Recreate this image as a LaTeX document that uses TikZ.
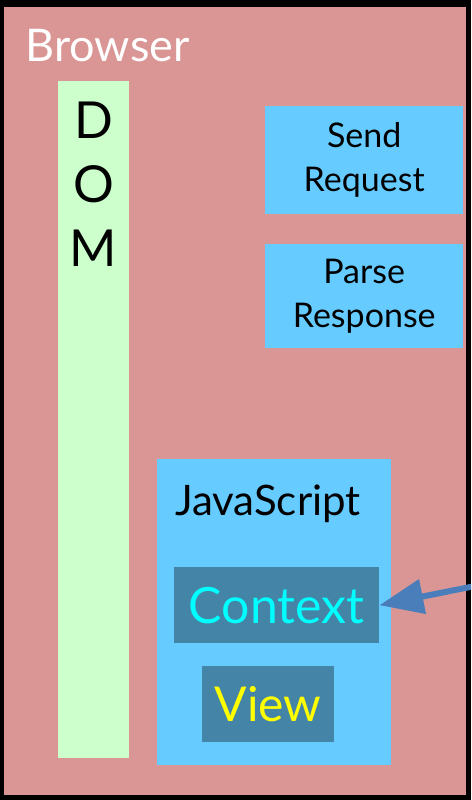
\documentclass[tikz,border=0pt]{standalone}
\usepackage{fontspec}
\setmainfont{Lato}
\usetikzlibrary{arrows.meta}

\definecolor{browserpink}{HTML}{D99694}
\definecolor{domgreen}{HTML}{CCFFCC}
\definecolor{panelblue}{HTML}{66CCFF}
\definecolor{innerteal}{HTML}{4484A6}
\definecolor{arrowblue}{HTML}{4A7EBB}
\definecolor{contextcyan}{HTML}{00FFFF}
\definecolor{viewyellow}{HTML}{FFFF00}

\begin{document}
\begin{tikzpicture}[x=1pt,y=-1pt,
  panel/.style={fill=panelblue, inner sep=0pt, anchor=north west, align=center},
  inner/.style={fill=innerteal, inner sep=0pt, anchor=north west},
  pointer/.style={-{Triangle[length=44pt,width=34pt]}, line width=6pt, arrowblue}]
% Frame
\clip (0,0) rectangle (471,800);
\fill[black] (0,0) rectangle (471,800);
\node[fill=browserpink, inner sep=0pt, anchor=north west,
      minimum width=462pt, minimum height=788pt] (browser) at (4,7) {};
\node[white, anchor=base west, font=\fontsize{45}{54}\selectfont] (browsertitle) at (22,62) {Browser};

% DOM column
\node[fill=domgreen, inner sep=0pt, anchor=north west,
      minimum width=71pt, minimum height=677pt] (dom) at (58,81) {};
\node[anchor=north, align=center, inner sep=0pt,
      font=\fontsize{51}{64}\selectfont] (domtext) at (93.5,102) {D\\O\\M};

% Request and response
\node[panel, minimum width=198pt, minimum height=108pt,
      font=\fontsize{34}{44}\selectfont] (send) at (265,106) {Send\\Request};
\node[panel, minimum width=198pt, minimum height=104pt,
      font=\fontsize{34}{44}\selectfont] (parse) at (265,244) {Parse\\Response};

% JavaScript block
\node[panel, minimum width=234pt, minimum height=306pt] (js) at (157,459) {};
\node[anchor=base west, inner sep=0pt, font=\fontsize{42}{50}\selectfont] (jstitle) at (175,515) {JavaScript};
\node[inner, minimum width=205pt, minimum height=76pt, text=contextcyan,
      font=\fontsize{50}{58}\selectfont] (context) at (174,567) {Context};
\node[inner, minimum width=132pt, minimum height=76pt, text=viewyellow,
      font=\fontsize{48}{58}\selectfont] (view) at (202,666) {View};

% Incoming pointer
\coordinate (pointertail) at (490,583);
\draw[pointer] (pointertail) -- (context.east);
\end{tikzpicture}
\end{document}
